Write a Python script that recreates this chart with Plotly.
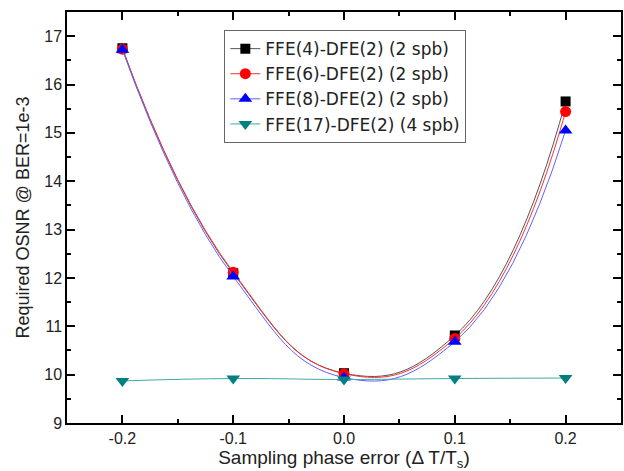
import plotly.graph_objects as go

x_vals = [-0.2, -0.1, 0.0, 0.1, 0.2]
ffe4 = [16.75, 12.10, 10.03, 10.81, 15.65]
ffe6 = [16.73, 12.12, 10.02, 10.75, 15.44]
ffe8 = [16.72, 12.03, 9.94, 10.68, 15.05]
ffe17 = [9.87, 9.92, 9.90, 9.92, 9.93]

names = ["FFE(4)-DFE(2) (2 spb)", "FFE(6)-DFE(2) (2 spb)",
         "FFE(8)-DFE(2) (2 spb)", "FFE(17)-DFE(2) (4 spb)"]
series = [ffe4, ffe6, ffe8, ffe17]
line_colors = ["#555555", "#ff3030", "#6060ff", "#40a8a8"]
marker_colors = ["#000000", "#ff0000", "#0000ff", "#008080"]
symbols = ["square", "circle", "triangle-up", "triangle-down"]
sizes = [10, 11, 12, 12]

fig = go.Figure()
for nm, ys, lc, mc, sym, sz in zip(names, series, line_colors, marker_colors, symbols, sizes):
    fig.add_trace(go.Scatter(
        x=x_vals, y=ys, name=nm, mode="lines+markers",
        line=dict(color=lc, width=1, shape="spline", smoothing=1.3),
        marker=dict(symbol=sym, size=sz, color=mc),
    ))

axis_common = dict(
    showline=True, linecolor="black", linewidth=1.5, mirror="allticks",
    ticks="inside", ticklen=8, tickwidth=1.5, tickcolor="black",
    showgrid=False, zeroline=False,
    tickfont=dict(family="Arial", size=16, color="#222222"),
)

fig.update_layout(
    width=624, height=471,
    margin=dict(l=67, r=1, t=12, b=48),
    paper_bgcolor="white", plot_bgcolor="white",
    font=dict(family="Arial", color="#222222"),
    xaxis=dict(range=[-0.25, 0.25], tickvals=[-0.2, -0.1, 0.0, 0.1, 0.2],
               ticktext=["-0.2", "-0.1", "0.0", "0.1", "0.2"],
               minor=dict(dtick=0.05, tick0=0, ticks="inside", ticklen=4, tickwidth=1.5, tickcolor="black"),
               title=dict(text="Sampling phase error (Δ T/T<sub>s</sub>)", font=dict(size=19), standoff=4),
               **axis_common),
    yaxis=dict(range=[9, 17.5], dtick=1, tick0=9,
               minor=dict(dtick=0.5, tick0=9, ticks="inside", ticklen=4, tickwidth=1.5, tickcolor="black"),
               title=dict(text="Required OSNR @ BER=1e-3", font=dict(size=18), standoff=10),
               **axis_common),
    legend=dict(x=0.284, y=0.956, xanchor="left", yanchor="top",
                bgcolor="white", bordercolor="#666666", borderwidth=1,
                font=dict(family="DejaVu Sans", size=17, color="#222222"),
                tracegroupgap=0, itemwidth=30),
    showlegend=True,
)

fig.write_html("out.html")
